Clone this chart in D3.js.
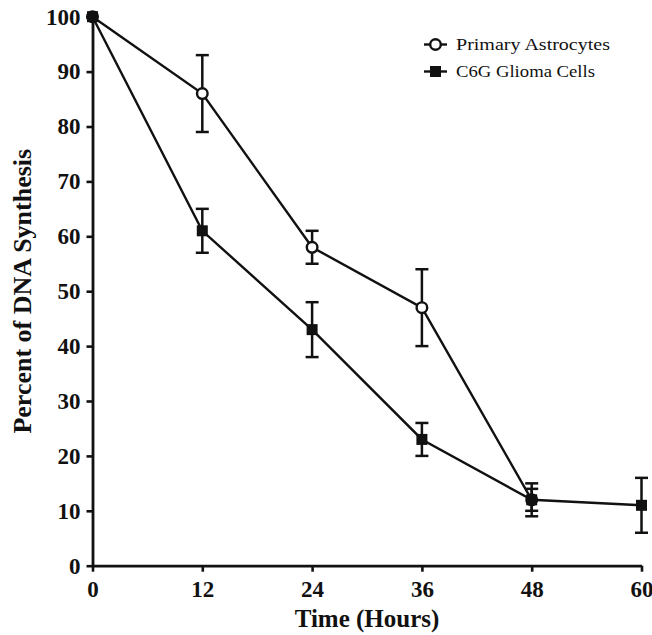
<!DOCTYPE html>
<html>
<head>
<meta charset="utf-8">
<script src="https://cdn.jsdelivr.net/npm/d3@7"></script>
<style>
  body { margin: 0; background: #fff; }
  text { font-family: "Liberation Serif", "Times New Roman", serif; fill: #111; }
</style>
</head>
<body>
<div id="chart"></div>
<script>
// data
const xTicks = [0, 12, 24, 36, 48, 60];
const yTicks = [0, 10, 20, 30, 40, 50, 60, 70, 80, 90, 100];

const astroHours = [0, 12, 24, 36, 48];
const astroValues = [100, 86, 58, 47, 12];
const astroErrors = [0, 7, 3, 7, 3];

const gliomaHours = [0, 12, 24, 36, 48, 60];
const gliomaValues = [100, 61, 43, 23, 12, 11];
const gliomaErrors = [0, 4, 5, 3, 2, 5];

const seriesNames = ["Primary Astrocytes", "C6G Glioma Cells"];

const width = 652, height = 635;
const ink = "#111";

const svg = d3.select("#chart")
    .append("svg")
    .attr("width", width)
    .attr("height", height);

const x = d3.scaleLinear().domain([0, 60]).range([92.5, 641.5]);
const y = d3.scaleLinear().domain([0, 100]).range([565.7, 16.7]);

// axes
const xAxis = svg.append("g")
    .attr("transform", `translate(0,${y(0)})`)
    .call(d3.axisBottom(x).tickValues(xTicks).tickSize(6).tickSizeOuter(0).tickPadding(9));
const yAxis = svg.append("g")
    .attr("transform", `translate(${x(0)},0)`)
    .call(d3.axisLeft(y).tickValues(yTicks).tickSize(6).tickSizeOuter(0).tickPadding(6));

[xAxis, yAxis].forEach(ax => {
    ax.select(".domain").attr("stroke", ink).attr("stroke-width", 2.8);
    ax.selectAll(".tick line").attr("stroke", ink).attr("stroke-width", 2.6);
    ax.selectAll(".tick text")
        .attr("fill", ink)
        .style("font-family", "'Liberation Serif', serif")
        .style("font-weight", "bold")
        .style("font-size", "23px");
});

// axis titles
svg.append("text")
    .attr("x", (x(0) + x(60)) / 2)
    .attr("y", 627)
    .attr("text-anchor", "middle")
    .attr("font-weight", "bold")
    .attr("font-size", "25px")
    .text("Time (Hours)");

svg.append("text")
    .attr("transform", `translate(31,${(y(0) + y(100)) / 2}) rotate(-90)`)
    .attr("text-anchor", "middle")
    .attr("font-weight", "bold")
    .attr("font-size", "26px")
    .text("Percent of DNA Synthesis");

const line = d3.line().x(d => x(d[0])).y(d => y(d[1]));

function drawSeries(hrs, vals, errs, shape) {
    const pts = hrs.map((h, i) => [h, vals[i], errs[i]]);
    const g = svg.append("g");

    g.append("path")
        .datum(pts)
        .attr("d", line)
        .attr("fill", "none")
        .attr("stroke", ink)
        .attr("stroke-width", 2.4);

    // error bars
    const eb = g.selectAll(".err")
        .data(pts.filter(d => d[2] > 0))
        .enter().append("g");
    eb.append("line")
        .attr("x1", d => x(d[0])).attr("x2", d => x(d[0]))
        .attr("y1", d => y(d[1] - d[2])).attr("y2", d => y(d[1] + d[2]))
        .attr("stroke", ink).attr("stroke-width", 2.5);
    [-1, 1].forEach(s => {
        eb.append("line")
            .attr("x1", d => x(d[0]) - 6.5).attr("x2", d => x(d[0]) + 6.5)
            .attr("y1", d => y(d[1] + s * d[2])).attr("y2", d => y(d[1] + s * d[2]))
            .attr("stroke", ink).attr("stroke-width", 2.5);
    });

    // markers
    if (shape === "circle") {
        g.selectAll(".pt").data(pts).enter().append("circle")
            .attr("cx", d => x(d[0])).attr("cy", d => y(d[1]))
            .attr("r", 5.3)
            .attr("fill", "#fff")
            .attr("stroke", ink)
            .attr("stroke-width", 2.4);
    } else {
        g.selectAll(".pt").data(pts).enter().append("rect")
            .attr("x", d => x(d[0]) - 5.5).attr("y", d => y(d[1]) - 5.5)
            .attr("width", 11).attr("height", 11)
            .attr("fill", ink);
    }
}

drawSeries(astroHours, astroValues, astroErrors, "circle");
drawSeries(gliomaHours, gliomaValues, gliomaErrors, "square");

// legend
const legend = svg.append("g");
const legendRows = [
    { name: seriesNames[0], shape: "circle", y: 44.5, len: 154 },
    { name: seriesNames[1], shape: "square", y: 71.5, len: 139 }
];
legendRows.forEach(r => {
    legend.append("line")
        .attr("x1", 424).attr("x2", 447)
        .attr("y1", r.y).attr("y2", r.y)
        .attr("stroke", ink).attr("stroke-width", 2.4);
    if (r.shape === "circle") {
        legend.append("circle")
            .attr("cx", 435.5).attr("cy", r.y).attr("r", 5.3)
            .attr("fill", "#fff").attr("stroke", ink).attr("stroke-width", 2.4);
    } else {
        legend.append("rect")
            .attr("x", 430).attr("y", r.y - 5.5)
            .attr("width", 11).attr("height", 11)
            .attr("fill", ink);
    }
    legend.append("text")
        .attr("x", 456)
        .attr("y", r.y + 5.5)
        .attr("font-size", "17px")
        .attr("textLength", r.len)
        .attr("lengthAdjust", "spacingAndGlyphs")
        .text(r.name);
});
</script>
</body>
</html>
